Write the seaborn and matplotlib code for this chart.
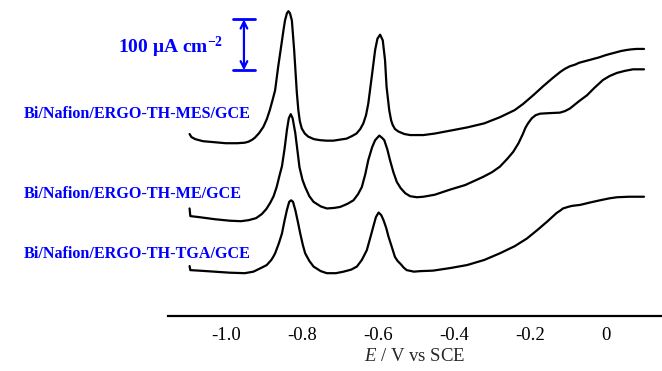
import matplotlib
matplotlib.use("Agg")
import matplotlib.pyplot as plt
import seaborn as sns
import pandas as pd

# Potential (V vs SCE) and current density (µA cm^-2, curves offset vertically)
E_mes = [-1.095, -1.09, -1.08, -1.06, -1.03, -1.00, -0.97, -0.95, -0.94, -0.93, -0.923, -0.912, -0.901,
         -0.892, -0.884, -0.877, -0.870, -0.862, -0.853, -0.848, -0.844, -0.839, -0.835, -0.831,
         -0.826, -0.820, -0.813, -0.809, -0.805, -0.800, -0.792, -0.783, -0.768, -0.752, -0.735,
         -0.717, -0.70, -0.682, -0.668, -0.656, -0.646, -0.638, -0.631, -0.625, -0.616, -0.607,
         -0.601, -0.594, -0.587, -0.581, -0.577, -0.570, -0.565, -0.561, -0.555, -0.546, -0.53,
         -0.515, -0.50, -0.48, -0.45, -0.40, -0.365, -0.32, -0.279, -0.24, -0.218, -0.19,
         -0.165, -0.14, -0.12, -0.108, -0.095, -0.082, -0.07, -0.06, -0.04, -0.02,
         0.0, 0.015, 0.03, 0.04, 0.055, 0.065, 0.08, 0.09, 0.10]
j_mes = [357, 351, 347, 343, 341, 339, 339, 340, 342, 346, 350, 359, 371,
         386, 404, 423, 443, 489, 535, 561, 580, 594, 598, 594,
         580, 522, 439, 404, 382, 368, 358, 352, 347, 345, 344,
         344, 346, 348, 353, 358, 367, 378, 394, 417, 469, 522,
         544, 552, 541, 502, 450, 404, 384, 375, 367, 362, 357,
         355, 355, 355, 358, 365, 370, 378, 390, 404, 416, 434,
         451, 467, 479, 485, 490, 493, 497, 499, 503, 507,
         512, 515, 518, 520, 522, 523, 524, 524, 524]

E_me = [-1.095, -1.093, -1.07, -1.03, -0.99, -0.96, -0.94, -0.92, -0.905, -0.893, -0.883, -0.874,
        -0.866, -0.858, -0.852, -0.845, -0.839, -0.834, -0.829, -0.824, -0.817, -0.806, -0.798,
        -0.791, -0.78, -0.769, -0.75, -0.734, -0.715, -0.699, -0.68, -0.664, -0.652, -0.642,
        -0.633, -0.625, -0.615, -0.607, -0.596, -0.588, -0.583, -0.575, -0.568, -0.559, -0.550,
        -0.540, -0.528, -0.515, -0.497, -0.48, -0.45, -0.41, -0.37, -0.323, -0.30, -0.279, -0.26,
        -0.244, -0.23, -0.218, -0.212, -0.205, -0.195, -0.185, -0.173, -0.15, -0.121, -0.108,
        -0.095, -0.07, -0.05, -0.03, -0.008, 0.01, 0.029, 0.05, 0.071, 0.10]
j_me = [211, 196, 194, 190, 187, 186, 188, 192, 200, 210, 222, 235,
        253, 277, 294, 329, 365, 388, 396, 388, 359, 292, 267,
        253, 235, 224, 215, 211, 212, 214, 220, 227, 239, 253,
        278, 306, 331, 345, 354, 349, 345, 327, 306, 282, 263,
        251, 241, 235, 233, 234, 238, 248, 257, 273, 282, 293, 308,
        322, 339, 358, 369, 378, 388, 394, 397, 398, 399, 402,
        407, 422, 433, 448, 463, 471, 477, 481, 484, 484]

E_tga = [-1.095, -1.093, -1.07, -1.03, -0.99, -0.95, -0.927, -0.905, -0.892, -0.886, -0.880, -0.875,
         -0.870, -0.860, -0.852, -0.845, -0.839, -0.833, -0.828, -0.823, -0.817, -0.810, -0.804,
         -0.797, -0.791, -0.78, -0.769, -0.75, -0.734, -0.71, -0.690, -0.67, -0.655, -0.642,
         -0.629, -0.620, -0.612, -0.605, -0.598, -0.591, -0.585, -0.578, -0.572, -0.563, -0.555,
         -0.548, -0.54, -0.532, -0.524, -0.505, -0.489, -0.455, -0.41, -0.365, -0.32, -0.279,
         -0.24, -0.208, -0.18, -0.155, -0.13, -0.12, -0.113, -0.10, -0.09, -0.068, -0.04, -0.016,
         0.01, 0.029, 0.06, 0.10]
j_tga = [98, 90, 89, 87, 85, 84, 87, 95, 100, 105, 110, 116,
         123, 143, 162, 188, 208, 224, 227, 224, 208, 184, 162,
         139, 123, 108, 97, 88, 84, 84, 87, 91, 97, 110,
         129, 153, 175, 194, 203, 198, 188, 173, 156, 135, 116,
         108, 102, 95, 90, 87, 88, 89, 94, 100, 110, 123,
         137, 152, 169, 185, 202, 207, 211, 214, 216, 218, 223, 227,
         231, 233, 234, 234]

labels = ["Bi/Nafion/ERGO-TH-MES/GCE", "Bi/Nafion/ERGO-TH-ME/GCE", "Bi/Nafion/ERGO-TH-TGA/GCE"]
xticks = [-1.0, -0.8, -0.6, -0.4, -0.2, 0.0]
xticklabels = ["-1.0", "-0.8", "-0.6", "-0.4", "-0.2", "0"]
scale_value = 100  # µA cm^-2

sns.set_style("white")
plt.rcParams["font.family"] = ["Liberation Serif", "DejaVu Serif"]
plt.rcParams["mathtext.fontset"] = "custom"
plt.rcParams["mathtext.rm"] = "Liberation Serif"
plt.rcParams["mathtext.it"] = "Liberation Serif:italic"
plt.rcParams["mathtext.bf"] = "Liberation Serif:bold"

fig = plt.figure(figsize=(6.62, 3.71), dpi=100)
ax = fig.add_axes([168 / 662, 55 / 371, 494 / 662, 316 / 371])

frames = []
for name, E, j in [(labels[0], E_mes, j_mes), (labels[1], E_me, j_me), (labels[2], E_tga, j_tga)]:
    frames.append(pd.DataFrame({"E": E, "j": j, "electrode": name}))
df = pd.concat(frames, ignore_index=True)

sns.lineplot(data=df, x="E", y="j", units="electrode", estimator=None, sort=False,
             color="black", linewidth=1.6, ax=ax, legend=False)

ax.set_xlim(-1.1517, 0.1473)
ax.set_ylim(0, 620)
ax.set_xticks(xticks)
ax.set_xticklabels(xticklabels, fontsize=13.5)
ax.set_yticks([])
ax.set_ylabel("")
ax.set_xlabel(r"$\it{E}$ / V vs SCE", fontsize=13.5, labelpad=3)
for s in ["left", "top", "right"]:
    ax.spines[s].set_visible(False)
ax.spines["bottom"].set_linewidth(1.6)
ax.spines["bottom"].set_color("black")
ax.tick_params(axis="x", direction="in", length=5, width=1.6, pad=8, colors="black")

# scale bar
sb_x = -0.952
sb_lo = 482
ax.annotate("", xy=(sb_x, sb_lo + scale_value), xytext=(sb_x, sb_lo),
            arrowprops=dict(arrowstyle="<->", color="#0000ff", lw=1.6, shrinkA=0, shrinkB=0,
                            mutation_scale=12))
ax.plot([sb_x - 0.03, sb_x + 0.03], [sb_lo, sb_lo], color="#0000ff", lw=2)
ax.plot([sb_x - 0.03, sb_x + 0.03], [sb_lo + scale_value, sb_lo + scale_value], color="#0000ff", lw=2)
fig.text(223 / 662, 1 - 47 / 371, "100 μA cm$^{\\mathbf{-2}}$", color="#0000ff",
         fontsize=14, fontweight="bold", ha="right", va="center")

label_y = [114, 194, 254]
for lab, yy in zip(labels, label_y):
    fig.text(24 / 662, 1 - yy / 371, lab, color="#0000ff", fontsize=11.6,
             fontweight="bold", ha="left", va="center")

fig.savefig("out.png", dpi=100)
